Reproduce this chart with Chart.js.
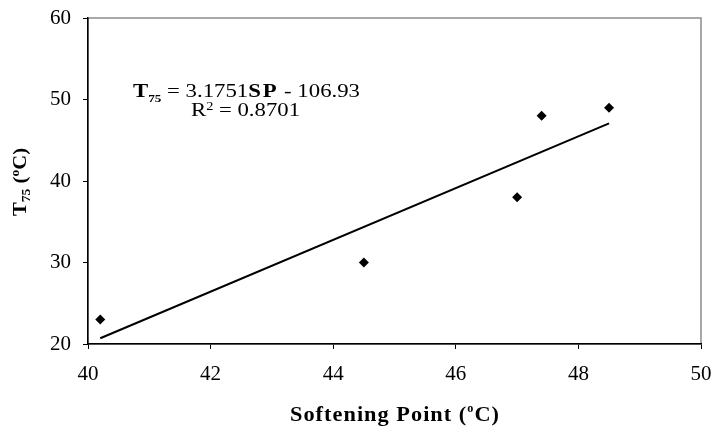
<!DOCTYPE html>
<html>
<head>
<meta charset="utf-8">
<script src="https://cdn.jsdelivr.net/npm/chart.js@4/dist/chart.umd.min.js"></script>
<style>
  html, body { margin: 0; padding: 0; background: #fff; }
  #wrap { width: 712px; height: 430px; }
</style>
</head>
<body>
<div id="wrap"><canvas id="grafico"></canvas></div>
<script>
// Softening point vs T75
const pontoAmolecimento = [40.2, 44.5, 47.0, 47.4, 48.5];
const t75 = [23, 30, 38, 48, 49];
const ticksX = [40, 42, 44, 46, 48, 50];
const ticksY = [20, 30, 40, 50, 60];

// Regressão linear (linha de tendência, como no Excel)
function regressao(xs, ys) {
  const n = xs.length;
  const mx = xs.reduce((a, b) => a + b, 0) / n;
  const my = ys.reduce((a, b) => a + b, 0) / n;
  let sxy = 0, sxx = 0, syy = 0;
  for (let i = 0; i < n; i++) {
    sxy += (xs[i] - mx) * (ys[i] - my);
    sxx += (xs[i] - mx) ** 2;
    syy += (ys[i] - my) ** 2;
  }
  const a = sxy / sxx;
  return { a, b: my - a * mx, r2: (sxy * sxy) / (sxx * syy) };
}
const reg = regressao(pontoAmolecimento, t75);
const xMin = Math.min(...pontoAmolecimento), xMax = Math.max(...pontoAmolecimento);
const tendencia = [xMin, xMax].map(x => ({ x, y: reg.a * x + reg.b }));

const SERIF = '"Liberation Serif", "Times New Roman", serif';

// Helper: desenha trechos de texto com fontes/deslocamentos diferentes,
// esticado na horizontal até a largura w (o original é meio "esticado")
function textoRico(ctx, partes, x, y, align, w) {
  let total = 0;
  partes.forEach(p => {
    ctx.font = p.font;
    for (const ch of p.t) total += ctx.measureText(ch).width + (p.sp || 0);
  });
  const esc = w ? w / total : 1;
  ctx.save();
  ctx.translate(align === 'center' ? x - total * esc / 2 : x, y);
  ctx.scale(esc, 1);
  ctx.textBaseline = 'alphabetic';
  ctx.textAlign = 'left';
  let cx = 0;
  partes.forEach(p => {
    ctx.font = p.font;
    for (const ch of p.t) {
      ctx.fillText(ch, cx, p.dy || 0);
      cx += ctx.measureText(ch).width + (p.sp || 0);
    }
  });
  ctx.restore();
}

// zera o "respiro" que o Chart.js reserva pros rótulos nas pontas
function semPadding(s) {
  s.paddingTop = 0; s.paddingBottom = 0; s.paddingLeft = 0; s.paddingRight = 0;
}

const extras = {
  id: 'extras',
  beforeDraw(chart) {
    const { ctx, chartArea: a } = chart;
    ctx.save();
    ctx.strokeStyle = '#8c8c8c';
    ctx.lineWidth = 1.5;
    ctx.strokeRect(a.left, a.top, a.right - a.left, a.bottom - a.top);
    ctx.restore();
  },
  afterDraw(chart) {
    const { ctx } = chart;
    ctx.save();
    ctx.fillStyle = '#000';
    // título eixo x
    textoRico(ctx, [
      { t: 'Softening Point (', font: 'bold 22px ' + SERIF, sp: 1 },
      { t: 'o', font: 'bold 12px ' + SERIF, dy: -9, sp: 1 },
      { t: 'C)', font: 'bold 22px ' + SERIF, sp: 1 }
    ], 395, 421, 'center', 210);
    // título eixo y (rotacionado)
    ctx.translate(26, 182);
    ctx.rotate(-Math.PI / 2);
    textoRico(ctx, [
      { t: 'T', font: 'bold 18px ' + SERIF },
      { t: '75', font: 'bold 12px ' + SERIF, dy: 4 },
      { t: ' (', font: 'bold 18px ' + SERIF },
      { t: 'o', font: 'bold 12px ' + SERIF, dy: -7 },
      { t: 'C)', font: 'bold 18px ' + SERIF }
    ], 0, 0, 'center', 68);
    ctx.restore();

    // equação da linha de tendência
    ctx.save();
    ctx.fillStyle = '#000';
    textoRico(ctx, [
      { t: 'T', font: 'bold 19px ' + SERIF },
      { t: '75', font: 'bold 11px ' + SERIF, dy: 5 },
      { t: ' = ' + reg.a.toFixed(4), font: '19px ' + SERIF },
      { t: 'SP', font: 'bold 19px ' + SERIF, sp: 1.5 },
      { t: ' - ' + Math.abs(reg.b).toFixed(2), font: '19px ' + SERIF }
    ], 133, 97, 'left', 227);
    textoRico(ctx, [
      { t: 'R', font: '19px ' + SERIF },
      { t: '2', font: '12px ' + SERIF, dy: -6 },
      { t: ' = ' + reg.r2.toFixed(4), font: '19px ' + SERIF }
    ], 191, 116, 'left', 109);
    ctx.restore();
  }
};

new Chart(document.getElementById('grafico'), {
  type: 'scatter',
  data: {
    datasets: [
      {
        label: 'T75',
        data: pontoAmolecimento.map((x, i) => ({ x, y: t75[i] })),
        pointStyle: 'rectRot',
        pointRadius: 5,
        backgroundColor: '#000',
        borderColor: '#000',
        borderWidth: 0
      },
      {
        label: 'Linear',
        type: 'line',
        data: tendencia,
        borderColor: '#000',
        borderWidth: 2,
        pointRadius: 0,
        fill: false
      }
    ]
  },
  options: {
    responsive: true,
    maintainAspectRatio: false,
    animation: false,
    layout: { padding: { top: 18, right: 11, left: 0, bottom: 0 } },
    plugins: { legend: { display: false }, tooltip: { enabled: false } },
    scales: {
      x: {
        type: 'linear',
        min: 40, max: 50,
        afterBuildTicks: s => { s.ticks = ticksX.map(v => ({ value: v })); },
        afterFit: s => { s.height = 86; semPadding(s); },
        grid: { drawOnChartArea: false, drawTicks: true, tickLength: 5, color: '#000' },
        border: { color: '#000', width: 1.5 },
        ticks: { color: '#000', padding: 13, font: { family: SERIF, size: 21 } }
      },
      y: {
        type: 'linear',
        min: 20, max: 60,
        afterBuildTicks: s => { s.ticks = ticksY.map(v => ({ value: v })); },
        afterFit: s => { s.width = 88; semPadding(s); },
        grid: { drawOnChartArea: false, drawTicks: true, tickLength: 5, color: '#000' },
        border: { color: '#000', width: 1.5 },
        ticks: { color: '#000', padding: 12, font: { family: SERIF, size: 21 } }
      }
    }
  },
  plugins: [extras]
});
</script>
</body>
</html>
